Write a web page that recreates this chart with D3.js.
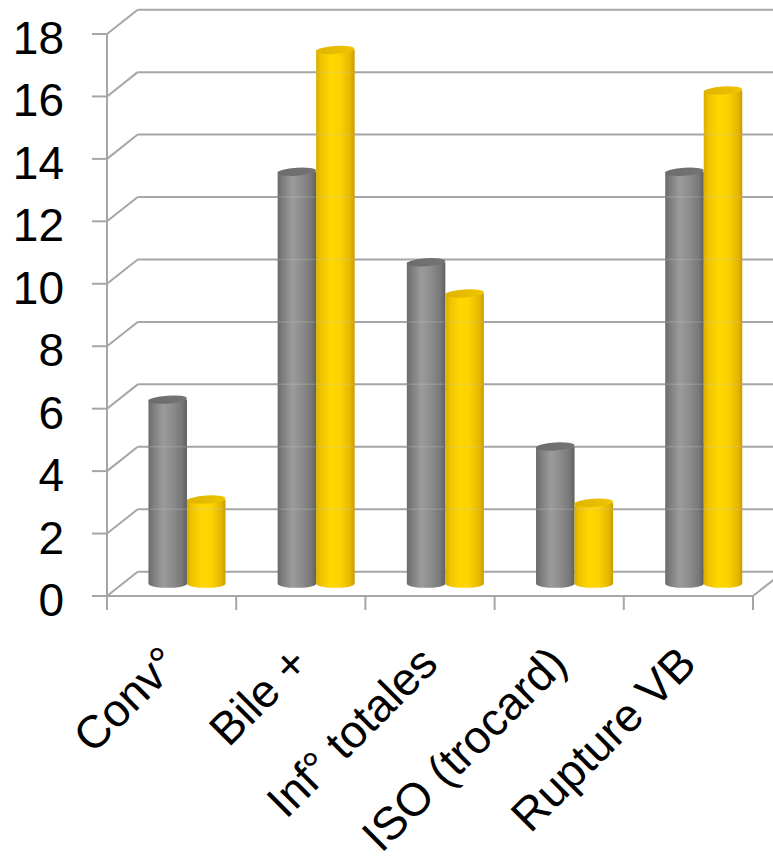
<!DOCTYPE html>
<html>
<head>
<meta charset="utf-8">
<script src="https://cdn.jsdelivr.net/npm/d3@7"></script>
<style>
  html, body { margin: 0; padding: 0; background: #ffffff; }
  svg { display: block; font-family: "Liberation Sans", Arial, sans-serif; }
</style>
</head>
<body>
<svg id="chart" width="773" height="864"></svg>
<script>
// Categories and the two series (percentages)
const categories = ["Conv°", "Bile +", "Inf° totales", "ISO (trocard)", "Rupture VB"];
const seriesGrey = [5.9, 13.2, 10.3, 4.4, 13.2];
const seriesGold = [2.7, 17.1, 9.3, 2.6, 15.8];
const yTicks = [0, 2, 4, 6, 8, 10, 12, 14, 16, 18];

const svg = d3.select("#chart");

// Front plane of the 3-D box and its depth offset
const x0 = 107, x1 = 753;
const depth = { dx: 30.7, dy: -24.3 };
const mid = { dx: depth.dx / 2, dy: depth.dy / 2 };

const y = d3.scaleLinear().domain([0, 18]).range([596, 34]);
const x = d3.scaleBand().domain(categories).range([x0, x1])
  .paddingInner(0.404).paddingOuter(0.202);
const xs = d3.scaleBand().domain(["grey", "gold"]).range([0, x.bandwidth()]);

const gridColor = "#a6a6a6";
const defs = svg.append("defs");

// Cylinder shading gradients
function cylGradient(id, stops) {
  const g = defs.append("linearGradient").attr("id", id)
    .attr("x1", "0%").attr("x2", "100%").attr("y1", "0%").attr("y2", "0%");
  stops.forEach(([o, c]) => g.append("stop").attr("offset", o).attr("stop-color", c));
}
cylGradient("gradGrey", [["0%", "#6a6a6a"], ["12%", "#7c7c7c"], ["38%", "#9b9b9b"], ["60%", "#8e8e8e"], ["88%", "#777777"], ["100%", "#5f5f5f"]]);
cylGradient("gradGold", [["0%", "#d9ad00"], ["12%", "#eec400"], ["38%", "#ffd700"], ["62%", "#fdd200"], ["88%", "#e6b800"], ["100%", "#c99c00"]]);
cylGradient("topGrey", [["0%", "#6c6c6c"], ["100%", "#747474"]]);
cylGradient("topGold", [["0%", "#dfb400"], ["70%", "#e9bf00"], ["100%", "#eec800"]]);

// Walls: back gridlines, side diagonals, axis ticks
const walls = svg.append("g").attr("stroke", gridColor).attr("stroke-width", 2).attr("fill", "none");
yTicks.forEach(t => {
  const yy = y(t);
  walls.append("line").attr("x1", x0 + depth.dx).attr("x2", x1 + depth.dx)
    .attr("y1", yy + depth.dy).attr("y2", yy + depth.dy);
  walls.append("line").attr("x1", x0).attr("x2", x0 + depth.dx)
    .attr("y1", yy).attr("y2", yy + depth.dy);
  walls.append("line").attr("x1", x0 - 15).attr("x2", x0)
    .attr("y1", yy).attr("y2", yy);
});
// Floor front edge and right diagonal
walls.append("line").attr("x1", x0).attr("x2", x1).attr("y1", y(0)).attr("y2", y(0));
walls.append("line").attr("x1", x1).attr("x2", x1 + depth.dx)
  .attr("y1", y(0)).attr("y2", y(0) + depth.dy);
// Vertical value axis
walls.append("line").attr("x1", x0).attr("x2", x0).attr("y1", y(18)).attr("y2", y(0));
// Category tick marks
const catEdges = d3.range(categories.length + 1).map(i => x0 + i * x.step());
catEdges.forEach(cx => {
  walls.append("line").attr("x1", cx).attr("x2", cx).attr("y1", y(0)).attr("y2", y(0) + 14);
});

// Value labels
svg.append("g").selectAll("text").data(yTicks).join("text")
  .attr("x", 64).attr("y", d => y(d) + 20)
  .attr("text-anchor", "end").attr("font-size", 46).attr("fill", "#000")
  .text(d => d);

// Cylinders, placed on the middle depth plane
const bars = [];
categories.forEach((c, i) => {
  bars.push({ cat: c, key: "grey", v: seriesGrey[i] });
  bars.push({ cat: c, key: "gold", v: seriesGold[i] });
});
const ry = 4;
const gBars = svg.append("g");
bars.forEach(b => {
  const left = x(b.cat) + xs(b.key) + mid.dx;
  const w = xs.bandwidth();
  const cx = left + w / 2;
  const yTop = y(b.v) + mid.dy;
  const yBot = y(0) + mid.dy;
  const body = b.key === "grey" ? "url(#gradGrey)" : "url(#gradGold)";
  const top = b.key === "grey" ? "url(#topGrey)" : "url(#topGold)";
  const g = gBars.append("g");
  g.append("ellipse").attr("cx", cx).attr("cy", yBot).attr("rx", w / 2).attr("ry", ry).attr("fill", body);
  g.append("rect").attr("x", left).attr("y", yTop).attr("width", w).attr("height", yBot - yTop).attr("fill", body);
  // faint trace of the back gridlines seen through the cylinder
  yTicks.filter(t => t > 0 && t < b.v).forEach(t => {
    g.append("line").attr("x1", left).attr("x2", left + w)
      .attr("y1", y(t) + depth.dy).attr("y2", y(t) + depth.dy)
      .attr("stroke", "#c8c8c8").attr("stroke-width", 1.5).attr("stroke-opacity", 0.25);
  });
  g.append("ellipse").attr("cx", cx).attr("cy", yTop).attr("rx", w / 2).attr("ry", ry)
    .attr("transform", `rotate(-4 ${cx} ${yTop})`).attr("fill", top);
});

// Category labels, rotated
svg.append("g").selectAll("text").data(categories).join("text")
  .attr("transform", d => `translate(${x(d) + x.bandwidth() / 2 + 10},666) rotate(-45)`)
  .attr("text-anchor", "end").attr("font-size", 46).attr("fill", "#000")
  .text(d => d);
</script>
</body>
</html>
